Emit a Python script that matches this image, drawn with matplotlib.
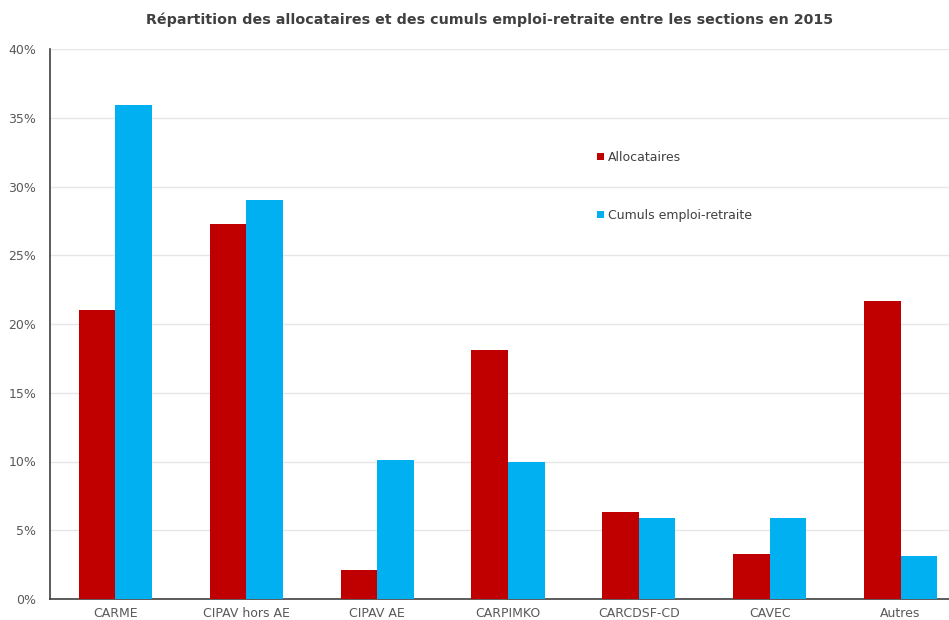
import numpy as np
import matplotlib.pyplot as plt
from matplotlib.ticker import FuncFormatter

# data (in %)
categories = ['CARME', 'CIPAV hors AE', 'CIPAV AE', 'CARPIMKO', 'CARCDSF-CD', 'CAVEC', 'Autres']
allocataires = [21.0, 27.3, 2.1, 18.1, 6.3, 3.3, 21.7]
cumuls = [35.9, 29.0, 10.1, 10.0, 5.9, 5.9, 3.1]

red = '#C00000'
blue = '#00B0F0'

fig = plt.figure(figsize=(9.49, 6.2), dpi=100)
ax = fig.add_axes([50 / 949, 21 / 620, 916 / 949, 550 / 620])

x = np.arange(len(categories))
w = 0.28
ax.bar(x - w / 2, allocataires, w, color=red, label='Allocataires', zorder=3)
ax.bar(x + w / 2, cumuls, w, color=blue, label='Cumuls emploi-retraite', zorder=3)

ax.set_xlim(-0.5, len(categories) - 0.5)
ax.set_ylim(0, 40)
ax.set_yticks(np.arange(0, 41, 5))
ax.yaxis.set_major_formatter(FuncFormatter(lambda v, p: '%d%%' % v))
ax.set_xticks(x)
ax.set_xticklabels(categories)
ax.tick_params(axis='both', length=0, colors='#595959', labelsize=9)
ax.tick_params(axis='y', pad=10)
ax.tick_params(axis='x', pad=6)

ax.grid(axis='y', color='#E6E6E6', linewidth=1, zorder=0)
for s in ['top', 'right']:
    ax.spines[s].set_visible(False)
ax.spines['left'].set_color('#404040')
ax.spines['bottom'].set_color('#404040')
ax.spines['left'].set_linewidth(1.2)
ax.spines['bottom'].set_linewidth(1.2)

leg = ax.legend(loc='upper left', bbox_to_anchor=(0.585, 0.835), frameon=False,
                handlelength=0.55, handleheight=0.55, handletextpad=0.3,
                labelspacing=3.6, fontsize=9)
for t in leg.get_texts():
    t.set_color('#404040')

fig.text(490 / 949, 1 - 20 / 620, 'Répartition des allocataires et des cumuls emploi-retraite entre les sections en 2015',
         ha='center', va='center', fontsize=10.3, fontweight='bold', color='#404040')

fig.savefig('out.png', dpi=100)
